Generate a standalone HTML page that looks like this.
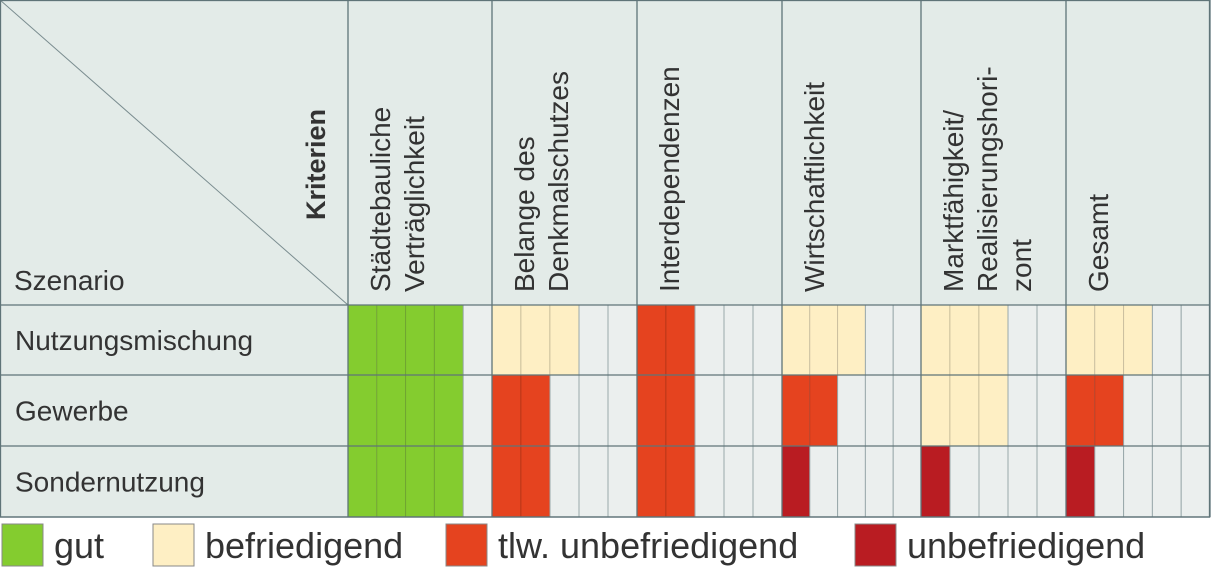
<!DOCTYPE html>
<html><head><meta charset="utf-8"><style>
body{margin:0;background:#fff;}
svg text{font-family:"Liberation Sans",sans-serif;fill:#333;}
</style></head><body>
<svg id="c" width="1212" height="569" viewBox="0 0 1212 569">
<g id="g"></g>
</svg>
<script>
const criteria=[["Städtebauliche","Verträglichkeit"],["Belange des","Denkmalschutzes"],["Interdependenzen"],["Wirtschaftlichkeit"],["Marktfähigkeit/","Realisierungshori-","zont"],["Gesamt"]];
const scenarios=["Nutzungsmischung","Gewerbe","Sondernutzung"];
const scoresNutzung=[4,3,2,3,3,3];
const scoresGewerbe=[4,2,2,2,3,2];
const scoresSonder=[4,2,2,1,1,1];
const legendLabels=["gut","befriedigend","tlw. unbefriedigend","unbefriedigend"];
const scores=[scoresNutzung,scoresGewerbe,scoresSonder];
const colorFor={4:"#84cc2f",3:"#feefc4",2:"#e5431f",1:"#b91c22"};
const colX=[348,492,637,782,921,1066,1210];
const rowY=[305,375,446,517];
const NS="http://www.w3.org/2000/svg";
const g=document.getElementById('g');
function mk(t,a,p){const e=document.createElementNS(NS,t);for(const k in a)e.setAttribute(k,a[k]);(p||g).appendChild(e);return e;}
let e=mk('rect',{x:0,y:0,width:1210,height:305,fill:'#e3ebe8'});


mk('line',{x1:0,y1:0,x2:348,y2:305,stroke:'#7a8c8f','stroke-width':1});
e=mk('text',{x:14,y:290,'font-size':28});e.textContent='Szenario';


e=mk('text',{transform:'translate(325,220) rotate(-90)','font-size':27,'font-weight':'bold'});e.textContent='Kriterien';


criteria.forEach((lines,i)=>{
  lines.forEach((l,j)=>{
    const t=mk('text',{transform:`translate(${colX[i]+42+j*34},292) rotate(-90)`,'font-size':28});
    t.textContent=l;
    
    
  });
});
scenarios.forEach((s,r)=>{
  const y0=rowY[r],y1=rowY[r+1];
  const bg=mk('rect',{x:0,y:y0,width:348,height:y1-y0,fill:'#e3ebe8'});
  
  
  const t=mk('text',{x:15,y:(y0+y1)/2+10,'font-size':28,fill:'#444'});t.textContent=s;
  
  
  scores[r].forEach((v,c)=>{
    const x0=colX[c],w=(colX[c+1]-x0)/5;
    for(let k=0;k<5;k++){
      const cell=mk('rect',{x:x0+k*w,y:y0,width:w,height:y1-y0,fill:k<v?colorFor[v]:'#ebefee',stroke:k<v?'rgba(0,0,0,0.15)':'#9aa9ab','stroke-width':1});
      
      
    }
  });
});
colX.forEach(x=>mk('line',{x1:x,y1:0,x2:x,y2:517,stroke:'#5f7478','stroke-width':1.3}));
rowY.forEach(y=>mk('line',{x1:0,y1:y,x2:1210,y2:y,stroke:'#5f7478','stroke-width':1.3}));
mk('rect',{x:0.5,y:0.5,width:1209,height:516.5,fill:'none',stroke:'#5f7478','stroke-width':1.3});
const legX=[2,153,446,855];
legendLabels.forEach((l,i)=>{
  const sq=mk('rect',{x:legX[i],y:524,width:41,height:42,fill:colorFor[4-i],stroke:'#888','stroke-width':1});
  
  
  const t=mk('text',{x:legX[i]+52,y:558,'font-size':36,fill:'#222'});t.textContent=l;
  
  
});
</script>
</body></html>
